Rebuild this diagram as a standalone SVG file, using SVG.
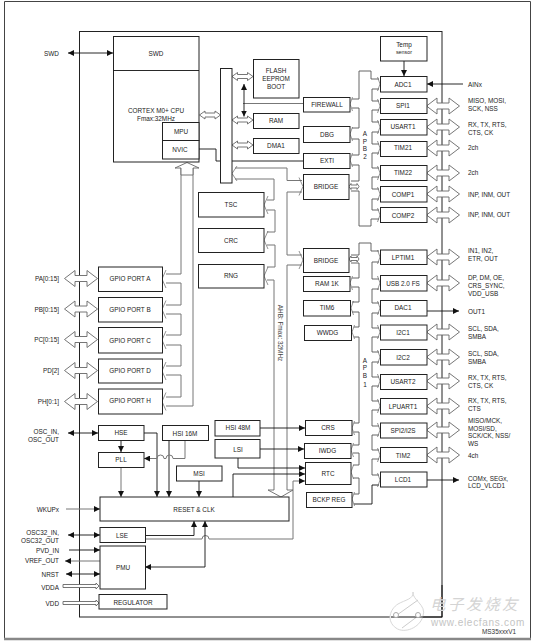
<svg xmlns="http://www.w3.org/2000/svg" width="537" height="642" viewBox="0 0 537 642">
<style>
text{font-family:"Liberation Sans",Arial,sans-serif;font-size:6.4px;fill:#222;dominant-baseline:central}
.c text{text-anchor:middle}
.m{text-anchor:middle}
.r{text-anchor:end}
rect{fill:#fff;stroke:#222;stroke-width:1}
.k{fill:none;stroke:#111;stroke-width:.9}
.ka{fill:none;stroke:#111;stroke-width:.9;marker-end:url(#a)}
.kd{fill:none;stroke:#111;stroke-width:.9;marker-start:url(#a);marker-end:url(#a)}
.g{fill:none;stroke:#777;stroke-width:1}
.ga{fill:none;stroke:#777;stroke-width:1;marker-end:url(#a)}
.b{fill:none;stroke:#555;stroke-width:.9}
.h{fill:#fff;stroke:#666;stroke-width:.9}
.v{fill:none;stroke:#666;stroke-width:.7}
</style>
<defs>
<marker id="a" markerUnits="userSpaceOnUse" markerWidth="6" markerHeight="6" refX="6" refY="3" orient="auto-start-reverse"><path d="M0 0L6 3L0 6Z" fill="#111"/></marker>
<path id="big" d="M-16.500 0L-6 -8V-3H6V-8L16.500 0L6 8V3H-6V8Z"/>
<path id="small" d="M-10.500 0L-5 -4V-2H5V-4L10.500 0L5 4V2H-5V4Z"/>
<path id="tiny" d="M-5 0L-3 -3V-1.500H3V-3L5 0L3 3V1.500H-3V3Z"/>
<path id="cl" d="M2.500 -7L0 0L2.500 7"/>
<path id="cr" d="M-2.500 -7L0 0L-2.500 7"/>
<path id="cbl" d="M4 -9L0 0L4 9"/>
<path id="cbr" d="M-4 -9L0 0L-4 9"/>
</defs>
<rect x="0" y="0" width="537" height="642" style="fill:#fff;stroke:none"/>
<path d="M4.500 640V1.500H530.500V640" fill="none" stroke="#444" stroke-width="1"/>
<path d="M4 639H531" fill="none" stroke="#888" stroke-width="2.500"/>
<rect id="chip" x="79.500" y="31.500" width="362.500" height="585.500"/>

<g id="connectors">
<path class="kd" d="M68 53H113"/>
<path class="g" d="M243 103.500H303"/>
<path class="kd" d="M244 84V116.500"/>
<path class="k" d="M199 149H216V161H303"/>
<path class="ka" d="M404 61V76"/>
<path class="g" d="M235 168H287V180.500H302"/>
<path class="g" d="M235 179H274V200H267"/>
<path class="g" d="M267 210H275V232H267"/>
<path class="g" d="M267 245H275V267H267"/>
<path class="g" d="M267 280H274V490"/>
<path class="g" d="M302 192H287V255H302"/>
<path class="g" d="M302 265H287V490"/>
<path class="g" d="M166 274H181V168"/>
<path class="g" d="M166 406H193V168"/>
<path class="g" d="M166 283H181V305H166M166 314H181V335H166M166 345H181V366H166M166 375H181V397H166"/>
<path class="h" d="M175 168L187 162.500L199 168H193V175H181V168Z"/>
<path class="b" d="M352 99H359V71H371V79H379M352 108H359V128H352M352 139H359V155H352M352 165H359V181H351M351 191H359V226H371V219H379"/>
<path class="b" d="M379 89H372V101H379M379 110H372V122H379M379 132H372V144H379M379 153H372V168H379M379 177H372V189H379M379 199H372V210H379"/>
<path class="b" d="M351 255H359V243H371V251H379M351 263H359V278H352M352 287H359V302H352M352 312H359V327H354M354 337H359V423H354M354 432H359V445H353M353 453H359V465H353M353 478H359V494H354"/>
<path class="b" d="M379 262H372V279H379M379 289H372V303H379M379 313H372V328H379M379 337H372V352H379M379 362H372V377H379M379 386H372V401H379M379 410H372V426H379M379 435H372V450H379M379 459H372V475H379"/>
<path class="k" d="M379 485H372V504H354"/>
<path class="ka" d="M463 84H427"/>
<path class="ka" d="M427 311H459"/>
<path class="ka" d="M427 480H459"/>
<path class="kd" d="M68 433H98"/>
<path class="ka" d="M144 433H157V497"/>
<path class="ka" d="M121 440V452"/>
<path class="ga" d="M121 467V497"/>
<path class="ka" d="M169 440V497"/>
<path class="ga" d="M185 440V458.500H173A3.500 3.500 0 0 0 166 458.500H164A3.500 3.500 0 0 0 157 458.500H144"/>
<path class="ka" d="M199 481V497"/>
<path class="ka" d="M238 458V468H305"/>
<path class="ka" d="M260 428H305"/>
<path class="ka" d="M260 449H304"/>
<path class="ka" d="M233 497V474H305"/>
<path class="ga" d="M145 539H202A3.500 3.500 0 0 1 209 539H293V481H305"/>
<path class="ka" d="M145 535.500H194V521"/>
<path class="kd" d="M145 567H205V521"/>
<path class="ga" d="M66 509H100"/>
<path class="kd" d="M68 535H100"/>
<path class="ka" d="M69 550H100"/>
<path class="ga" d="M100 561H65"/>
<path class="kd" d="M66 574H100"/>
</g>

<g id="hollow-arrows" class="h">
<use href="#small" x="210" y="115"/>
<use href="#small" x="242.500" y="76.500"/>
<use href="#small" x="242.500" y="120"/>
<use href="#small" x="242.500" y="145"/>
<use href="#tiny" x="354" y="186.500"/>
<use href="#tiny" x="354" y="259"/>
<use href="#big" x="443" y="106"/>
<use href="#big" x="443" y="127"/>
<use href="#big" x="443" y="148"/>
<use href="#big" x="443" y="173"/>
<use href="#big" x="443" y="194"/>
<use href="#big" x="443" y="215"/>
<use href="#big" x="443" y="257"/>
<use href="#big" x="443" y="283"/>
<use href="#big" x="443" y="332"/>
<use href="#big" x="443" y="357"/>
<use href="#big" x="443" y="381"/>
<use href="#big" x="443" y="406"/>
<use href="#big" x="443" y="430"/>
<use href="#big" x="443" y="455"/>
<use href="#big" x="81" y="278.500"/>
<use href="#big" x="81" y="309"/>
<use href="#big" x="81" y="339.500"/>
<use href="#big" x="81" y="370.500"/>
<use href="#big" x="81" y="401.500"/>
<path d="M63 584.500H96V583L99 586L96 589V587.500H63Z"/>
<path d="M63 601.500H96V600L99 603L96 606V604.500H63Z"/>
<path d="M268 490H274M287 490H293L281 497L268 490" style="fill:none"/>
</g>

<g id="chevrons" class="v">
<use href="#cl" x="350" y="104"/><use href="#cl" x="350" y="134"/><use href="#cl" x="350" y="160"/>
<use href="#cl" x="350" y="283"/><use href="#cl" x="351" y="308"/><use href="#cl" x="352" y="332"/>
<use href="#cl" x="352" y="428"/><use href="#cl" x="351" y="450"/><use href="#cl" x="351" y="472"/><use href="#cl" x="352" y="499"/>
<use href="#cr" x="380" y="84"/><use href="#cr" x="380" y="106"/><use href="#cr" x="380" y="127"/><use href="#cr" x="380" y="148"/><use href="#cr" x="380" y="173"/><use href="#cr" x="380" y="194"/><use href="#cr" x="380" y="215"/>
<use href="#cr" x="380" y="257"/><use href="#cr" x="380" y="283"/><use href="#cr" x="380" y="308"/><use href="#cr" x="380" y="332"/><use href="#cr" x="380" y="357"/><use href="#cr" x="380" y="381"/><use href="#cr" x="380" y="406"/><use href="#cr" x="380" y="430"/><use href="#cr" x="380" y="455"/><use href="#cr" x="380" y="480"/>
<use href="#cbr" x="303" y="186.500"/><use href="#cbr" x="303" y="260"/>
<use href="#cbl" x="162" y="279"/><use href="#cbl" x="162" y="309.500"/><use href="#cbl" x="162" y="340"/><use href="#cbl" x="162" y="371"/><use href="#cbl" x="162" y="401.500"/>
<use href="#cbl" x="264" y="205"/><use href="#cbl" x="264" y="240"/><use href="#cbl" x="264" y="276"/>
<path d="M237 166L232 173.500L237 181"/>
</g>

<g id="cpu" class="c"><rect x="113.500" y="36.500" width="85.500" height="125.500"/><path class="k" d="M113.500 70.500H199"/><text x="156" y="53">SWD</text><text x="156" y="110">CORTEX M0+ CPU</text><text x="156" y="118">Fmax:32MHz</text></g>
<g id="mpu" class="c"><rect x="162.500" y="122.500" width="36.500" height="18"/><text x="181" y="131">MPU</text></g>
<g id="nvic" class="c"><rect x="162.500" y="140.500" width="36.500" height="18.500"/><text x="180" y="149.500">NVIC</text></g>
<g id="ahb-bar"><rect x="220.500" y="68.500" width="11.500" height="114.500"/></g>
<g id="flash" class="c"><rect x="253.500" y="59.500" width="45.500" height="38.500"/><text x="276" y="70">FLASH</text><text x="276" y="78">EEPROM</text><text x="276" y="86">BOOT</text></g>
<g id="ram" class="c"><rect x="253.500" y="113.500" width="45.500" height="15"/><text x="276" y="120.500">RAM</text></g>
<g id="dma1" class="c"><rect x="253.500" y="138.500" width="45.500" height="15"/><text x="276" y="145">DMA1</text></g>
<g id="firewall" class="c"><rect x="303.500" y="97.500" width="46.500" height="14.500"/><text x="327" y="104">FIREWALL</text></g>
<g id="dbg" class="c"><rect x="303.500" y="126.500" width="46.500" height="16"/><text x="327" y="134">DBG</text></g>
<g id="exti" class="c"><rect x="303.500" y="153.500" width="46.500" height="15"/><text x="327" y="160.500">EXTI</text></g>
<g id="bridge1" class="c"><rect x="303.500" y="174.500" width="45.500" height="25"/><text x="326" y="186">BRIDGE</text></g>
<g id="tsc" class="c"><rect x="198.500" y="192.500" width="65.500" height="24.500"/><text x="231" y="204.500">TSC</text></g>
<g id="crc" class="c"><rect x="198.500" y="228.500" width="65.500" height="24"/><text x="231" y="240">CRC</text></g>
<g id="rng" class="c"><rect x="198.500" y="264.500" width="65.500" height="23.500"/><text x="231" y="275.500">RNG</text></g>
<g id="bridge2" class="c"><rect x="303.500" y="248.500" width="45.500" height="24"/><text x="326" y="260">BRIDGE</text></g>
<g id="ram1k" class="c"><rect x="303.500" y="276.500" width="46.500" height="15"/><text x="327" y="283">RAM 1K</text></g>
<g id="tim6" class="c"><rect x="303.500" y="300.500" width="47" height="15.500"/><text x="327" y="307.500">TIM6</text></g>
<g id="wwdg" class="c"><rect x="304.500" y="325.500" width="47" height="15"/><text x="327.500" y="332">WWDG</text></g>
<g id="crs" class="c"><rect x="305.500" y="420.500" width="46.500" height="15"/><text x="328" y="427.500">CRS</text></g>
<g id="iwdg" class="c"><rect x="304.500" y="443.500" width="46.500" height="15"/><text x="327.500" y="450">IWDG</text></g>
<g id="rtc" class="c"><rect x="305.500" y="462.500" width="45.500" height="22"/><text x="328" y="473.500">RTC</text></g>
<g id="bckp" class="c"><rect x="306.500" y="492.500" width="45.500" height="15"/><text x="329" y="499">BCKP REG</text></g>
<g id="temp" class="c"><rect x="380.500" y="36.500" width="46.500" height="24.500"/><text x="404" y="44.500">Temp</text><text x="404" y="52" style="font-size:5.400px">sensor</text></g>
<g id="adc1" class="c"><rect x="380.500" y="76.500" width="46.500" height="15.500"/><text x="403" y="84">ADC1</text></g>
<g id="spi1" class="c"><rect x="380.500" y="98.500" width="46.500" height="15"/><text x="403" y="105.500">SPI1</text></g>
<g id="usart1" class="c"><rect x="380.500" y="119.500" width="46.500" height="15.500"/><text x="403" y="126.500">USART1</text></g>
<g id="tim21" class="c"><rect x="380.500" y="141.500" width="46.500" height="15"/><text x="403" y="147.500">TIM21</text></g>
<g id="tim22" class="c"><rect x="380.500" y="165.500" width="46.500" height="15"/><text x="403" y="172.500">TIM22</text></g>
<g id="comp1" class="c"><rect x="380.500" y="186.500" width="46.500" height="15.500"/><text x="403" y="194">COMP1</text></g>
<g id="comp2" class="c"><rect x="380.500" y="207.500" width="46.500" height="15"/><text x="403" y="215">COMP2</text></g>
<g id="lptim1" class="c"><rect x="380.500" y="250" width="46.500" height="14.500"/><text x="403" y="257">LPTIM1</text></g>
<g id="usb" class="c"><rect x="380.500" y="275.500" width="46.500" height="15.500"/><text x="403" y="283">USB 2.0 FS</text></g>
<g id="dac1" class="c"><rect x="380.500" y="300.500" width="46.500" height="15.500"/><text x="403" y="307.500">DAC1</text></g>
<g id="i2c1" class="c"><rect x="380.500" y="325" width="46.500" height="15"/><text x="403" y="332">I2C1</text></g>
<g id="i2c2" class="c"><rect x="380.500" y="349.500" width="46.500" height="15.500"/><text x="403" y="357">I2C2</text></g>
<g id="usart2" class="c"><rect x="380.500" y="374.500" width="46.500" height="15"/><text x="403" y="381">USART2</text></g>
<g id="lpuart1" class="c"><rect x="380.500" y="398.500" width="46.500" height="15.500"/><text x="403" y="406">LPUART1</text></g>
<g id="spi2" class="c"><rect x="380.500" y="423" width="46.500" height="15"/><text x="403" y="430.500">SPI2/I2S</text></g>
<g id="tim2" class="c"><rect x="380.500" y="447.500" width="46.500" height="15"/><text x="403" y="455.500">TIM2</text></g>
<g id="lcd1" class="c"><rect x="380.500" y="472" width="46.500" height="15"/><text x="403" y="479">LCD1</text></g>
<g id="gpioa" class="c"><rect x="98.500" y="267" width="64" height="24.500"/><text x="130" y="278.500">GPIO PORT A</text></g>
<g id="gpiob" class="c"><rect x="98.500" y="297.500" width="64" height="24.500"/><text x="130" y="309">GPIO PORT B</text></g>
<g id="gpioc" class="c"><rect x="98.500" y="327.500" width="64" height="25.500"/><text x="130" y="340">GPIO PORT C</text></g>
<g id="gpiod" class="c"><rect x="98.500" y="359" width="64" height="24"/><text x="130" y="370.500">GPIO PORT D</text></g>
<g id="gpioh" class="c"><rect x="98.500" y="389" width="64" height="25"/><text x="130" y="400.500">GPIO PORT H</text></g>
<g id="hse" class="c"><rect x="98.500" y="425.500" width="45.500" height="15"/><text x="121" y="432.500">HSE</text></g>
<g id="pll" class="c"><rect x="98.500" y="452.500" width="45.500" height="15"/><text x="121" y="459.500">PLL</text></g>
<g id="hsi16" class="c"><rect x="162.500" y="425.500" width="46" height="15"/><text x="185" y="433">HSI 16M</text></g>
<g id="hsi48" class="c"><rect x="215" y="420.500" width="45" height="15.500"/><text x="238" y="427.500">HSI 48M</text></g>
<g id="lsi" class="c"><rect x="215" y="439.500" width="45" height="18.500"/><text x="238" y="449">LSI</text></g>
<g id="msi" class="c"><rect x="176.500" y="466" width="45.500" height="15"/><text x="199" y="473.500">MSI</text></g>
<g id="reset" class="c"><rect x="100" y="497" width="189" height="24"/><text x="194" y="509">RESET &amp; CLK</text></g>
<g id="lse" class="c"><rect x="100" y="527.500" width="45.500" height="15"/><text x="122" y="535">LSE</text></g>
<g id="pmu" class="c"><rect x="100" y="546" width="45.500" height="43"/><text x="123" y="567">PMU</text></g>
<g id="regulator" class="c"><rect x="99" y="594.500" width="68" height="14.500"/><text x="133" y="602">REGULATOR</text></g>

<g id="labels">
<text class="m" x="365" y="133">A</text><text class="m" x="365" y="141">P</text><text class="m" x="365" y="148.500">B</text><text class="m" x="365" y="156">2</text>
<text class="m" x="365" y="360">A</text><text class="m" x="365" y="367.500">P</text><text class="m" x="365" y="375.500">B</text><text class="m" x="365" y="384">1</text>
<text class="m" transform="translate(280.500 333) rotate(90)" style="fill:#444">AHB: Fmax: 32MHz</text>
<text class="r" x="59" y="53.500">SWD</text>
<text class="r" x="59" y="278.500">PA[0:15]</text>
<text class="r" x="59" y="309">PB[0:15]</text>
<text class="r" x="59" y="339.500">PC[0:15]</text>
<text class="r" x="59" y="370">PD[2]</text>
<text class="r" x="59" y="401">PH[0:1]</text>
<text class="r" x="59" y="431.500">OSC_IN,</text><text class="r" x="59" y="439.500">OSC_OUT</text>
<text class="r" x="59" y="509">WKUPx</text>
<text class="r" x="59" y="532">OSC32_IN,</text><text class="r" x="59" y="540">OSC32_OUT</text>
<text class="r" x="59" y="550">PVD_IN</text>
<text class="r" x="59" y="560">VREF_OUT</text>
<text class="r" x="59" y="574">NRST</text>
<text class="r" x="59" y="587">VDDA</text>
<text class="r" x="59" y="603">VDD</text>
<text x="468" y="84">AINx</text>
<text x="468" y="100">MISO, MOSI,</text><text x="468" y="108">SCK, NSS</text>
<text x="468" y="124">RX, TX, RTS,</text><text x="468" y="132">CTS, CK</text>
<text x="468" y="147.500">2ch</text>
<text x="468" y="172.500">2ch</text>
<text x="468" y="194">INP, INM, OUT</text>
<text x="468" y="214">INP, INM, OUT</text>
<text x="468" y="250">IN1, IN2,</text><text x="468" y="258">ETR, OUT</text>
<text x="468" y="277">DP, DM, OE,</text><text x="468" y="285">CRS_SYNC,</text><text x="468" y="293">VDD_USB</text>
<text x="468" y="311">OUT1</text>
<text x="468" y="328">SCL, SDA,</text><text x="468" y="336">SMBA</text>
<text x="468" y="353">SCL, SDA,</text><text x="468" y="361">SMBA</text>
<text x="468" y="377.500">RX, TX, RTS,</text><text x="468" y="385.500">CTS, CK</text>
<text x="468" y="400">RX, TX, RTS,</text><text x="468" y="408">CTS</text>
<text x="468" y="420">MISO/MCK,</text><text x="468" y="428">MOSI/SD,</text><text x="468" y="435.500">SCK/CK, NSS/</text><text x="468" y="443">WS</text>
<text x="468" y="455">4ch</text>
<text x="468" y="478">COMx, SEGx,</text><text x="468" y="485">LCD_VLCD1</text>
</g>

<g id="watermark">
<path d="M413 592C412 600 427 605 423 616C420 628 404 634 396 628C386 621 390 609 398 604C405 600 414 599 413 592Z" fill="#fff" stroke="#d8d8d8" stroke-width="1"/>
<path d="M397 615L418 600M402 628L418 616" fill="none" stroke="#ccc" stroke-width="1"/>
<path d="M391 617H442V585" fill="none" stroke="#111" stroke-width="1"/>
<circle cx="396" cy="615" r="2.500" fill="#fff" stroke="#aaa"/><circle cx="418" cy="615" r="2.500" fill="#fff" stroke="#aaa"/>
<text x="430" y="602.500" style="font-family:'Noto Sans CJK SC',sans-serif;font-size:15.500px;font-style:italic;fill:#d4d4d4;letter-spacing:2.500px">电子发烧友</text>
<text x="431" y="622" style="font-size:10px;fill:#c4c4c4;letter-spacing:.7px">www.elecfans.com</text>
<text x="482" y="631.500" style="font-size:6.400px;fill:#333">MS35xxxV1</text>
</g>
</svg>
